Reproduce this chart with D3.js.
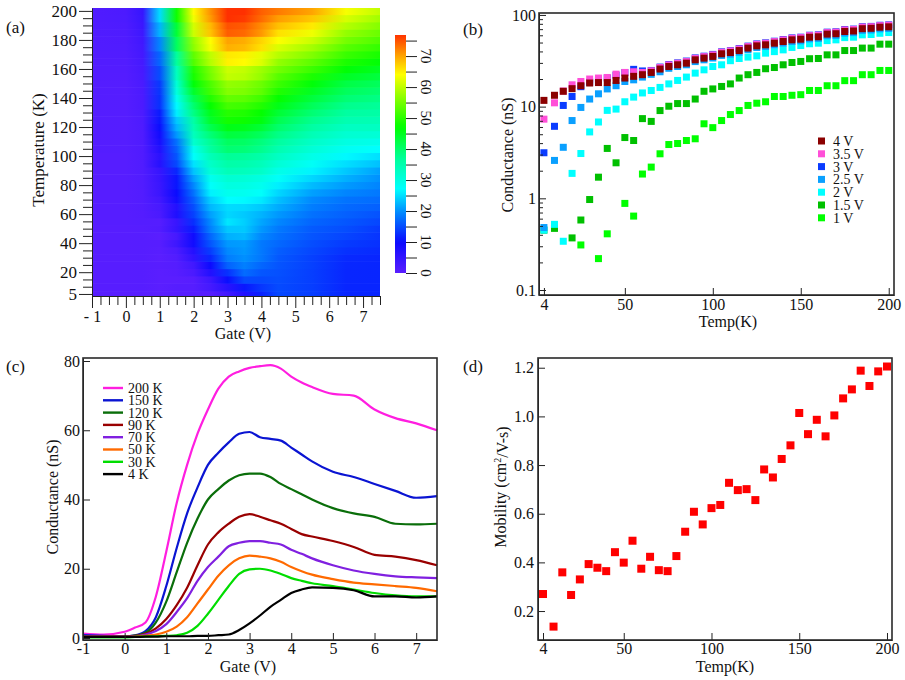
<!DOCTYPE html>
<html>
<head>
<meta charset="utf-8">
<script src="https://cdn.jsdelivr.net/npm/d3@7"></script>
<style>
  body { margin: 0; background: #fff; }
  svg, svg text { font-family: "Liberation Serif", "DejaVu Serif", "Times New Roman", Times, serif; }
  .axis path, .axis line { stroke: #222; }
  .axis text { fill: #111; }
</style>
</head>
<body>
<div id="fig"></div>
<script>
/* * * * * * * * * * * * * * * * * * * * *
*   Gate / temperature transport figure   *
* * * * * * * * * * * * * * * * * * * * */

const SERIF = '"Liberation Serif", "DejaVu Serif", "Times New Roman", Times, serif';

// ---- data -------------------------------------------------------------

// temperatures shared by (a), (b) and (d)
const temps = [4, 10, 15, 20, 25, 30, 35, 40, 45, 50, 55, 60, 65, 70, 75, 80, 85, 90, 95, 100,
    105, 110, 115, 120, 125, 130, 135, 140, 145, 150, 155, 160, 165, 170, 175, 180, 185, 190, 195, 200];

// (b) conductance (nS) vs temperature at fixed gate voltage; null = below the axis
const g4V = [11.7, 13.3, 14.7, 15.7, 16.9, 18.1, 18.3, 18.3, 19.3, 20.5, 21.4, 22.3, 23.6, 25.7, 27.4, 28.6, 29.8, 32.4, 33.8, 35.3,
    37.7, 38.9, 40.9, 43.5, 46.0, 47.2, 49.2, 51.3, 53.5, 54.4, 57.2, 57.8, 61.8, 62.4, 66.0, 66.8, 70.8, 71.5, 73.5, 74.2];
const g35V = [7.3, 11.0, 14.8, 17.3, 18.8, 20.0, 20.5, 20.8, 22.6, 23.6, 24.0, 23.6, 24.6, 26.7, 28.5, 29.7, 31.0, 33.6, 35.1, 36.7,
    39.2, 40.5, 42.5, 45.2, 47.8, 49.1, 51.2, 53.4, 55.6, 56.6, 59.5, 60.1, 64.2, 64.9, 68.6, 69.5, 73.6, 74.4, 76.4, 77.2];
const g3V = [3.14, 6.1, 10.3, 12.9, 16.5, 18.5, 19.5, 20.5, 22.0, 23.5, 25.5, 24.5, 24.8, 27.0, 28.8, 30.0, 31.4, 34.0, 35.5, 37.1,
    39.6, 40.8, 43.0, 45.7, 48.3, 49.6, 51.7, 53.9, 56.2, 57.2, 60.1, 60.7, 64.9, 65.5, 69.3, 70.1, 74.3, 75.0, 77.2, 77.9];
const g25V = [0.48, 2.59, 3.6, 7.05, 9.8, 12.1, 13.8, 15.6, 16.9, 18.8, 19.6, 21.0, 22.5, 24.0, 26.2, 27.4, 28.6, 31.0, 32.4, 33.9,
    36.2, 37.3, 39.3, 41.8, 44.2, 45.3, 47.2, 49.2, 51.4, 52.2, 54.9, 55.5, 59.3, 59.9, 63.4, 64.1, 68.0, 68.6, 70.6, 71.2];
const g2V = [0.45, 0.52, 0.34, 1.87, 3.08, 5.3, 6.8, 9.1, 9.4, 11.3, 12.7, 14.1, 15.0, 16.2, 17.7, 19.3, 21.0, 23.2, 25.2, 27.4,
    28.6, 31.7, 33.5, 34.7, 35.8, 38.3, 39.8, 41.6, 44.2, 46.4, 48.5, 49.2, 52.5, 53.5, 56.6, 57.2, 60.7, 61.2, 63.1, 64.3];
const g15V = [0.45, 0.47, null, 0.37, 0.58, 0.97, 1.7, 3.5, 2.44, 4.6, 4.27, 7.4, 6.9, 9.06, 10.1, 10.8, 10.8, 12.1, 14.7, 15.6,
    16.6, 17.7, 20.5, 22.3, 23.6, 25.9, 26.7, 28.6, 30.3, 31.1, 33.3, 33.5, 36.7, 36.7, 40.9, 40.9, 43.5, 43.5, 48.0, 48.0];
const g1V = [null, null, null, null, 0.31, null, 0.22, 0.41, null, 0.88, 0.64, 1.84, 2.19, 3.06, 3.86, 3.96, 4.27, 4.46, 6.5, 5.9,
    7.05, 8.2, 9.06, 10.3, 10.9, 11.3, 12.9, 12.9, 13.3, 13.5, 15.0, 15.0, 16.9, 16.9, 19.2, 19.2, 22.3, 22.3, 24.8, 24.8];
const bLabels = ["4 V", "3.5 V", "3 V", "2.5 V", "2 V", "1.5 V", "1 V"];

// (a) extra map columns (gate outside 1..4 V), one value per temperature
const mapGm1 = [0.4, 0.4, 0.4, 0.4, 0.4, 0.4, 0.4, 0.4, 0.4, 0.4, 0.5, 0.5, 0.5, 0.5, 0.5, 0.5, 0.5, 0.5, 0.5, 0.5,
    0.7, 0.7, 0.7, 0.7, 0.7, 0.7, 0.7, 0.7, 0.7, 0.7, 0.9, 0.9, 1.0, 1.0, 1.1, 1.1, 1.2, 1.2, 1.3, 1.3];
const mapG0 = [0.4, 0.4, 0.4, 0.4, 0.4, 0.4, 0.4, 0.4, 0.4, 0.4, 0.5, 0.5, 0.5, 0.5, 0.5, 0.5, 0.5, 0.5, 0.5, 0.5,
    0.6, 0.6, 0.6, 0.6, 0.6, 0.6, 0.6, 0.6, 0.6, 0.6, 0.8, 0.9, 1.0, 1.1, 1.2, 1.3, 1.4, 1.5, 1.7, 1.8];
const mapG05 = [0.5, 0.5, 0.5, 0.5, 0.5, 0.5, 0.5, 0.5, 0.5, 0.5, 0.7, 0.8, 0.9, 1.0, 1.0, 1.1, 1.1, 1.2, 1.2, 1.3,
    1.3, 1.4, 1.4, 1.5, 1.6, 1.7, 1.8, 1.8, 1.9, 2.0, 2.2, 2.4, 2.6, 2.8, 3.0, 3.3, 3.6, 3.9, 4.2, 4.5];
const mapG45 = [14.6, 14.8, 15.0, 15.2, 15.5, 15.8, 16.3, 17.0, 17.6, 18.3, 19.3, 20.5, 21.7, 23.0, 24.5, 26.0, 27.6, 29.3, 31.0, 32.8,
    34.6, 36.4, 38.2, 40.0, 41.8, 43.6, 45.5, 47.3, 49.2, 51.0, 53.0, 55.0, 57.2, 59.4, 61.6, 63.8, 66.0, 68.2, 70.4, 72.5];
const mapG55 = [13.8, 13.8, 13.9, 13.9, 14.0, 14.0, 14.5, 15.0, 15.5, 16.0, 16.8, 17.7, 18.6, 19.5, 21.0, 22.7, 24.5, 26.3, 27.8, 29.3,
    30.9, 32.5, 34.2, 36.0, 37.7, 39.5, 41.2, 43.0, 44.8, 46.5, 48.8, 51.0, 53.4, 55.8, 58.2, 60.6, 63.0, 65.4, 67.7, 70.0];
const mapG65 = [12.0, 12.0, 12.1, 12.1, 12.2, 12.3, 12.9, 13.6, 14.3, 15.0, 15.7, 16.4, 17.1, 17.8, 19.2, 20.6, 22.0, 23.5, 25.0, 26.6,
    28.2, 29.8, 31.4, 33.0, 34.6, 36.2, 37.8, 39.4, 41.0, 42.5, 44.6, 46.7, 48.8, 50.9, 53.0, 55.1, 57.2, 59.3, 61.4, 63.5];
const mapG75 = [12.0, 12.0, 12.0, 12.0, 12.0, 12.0, 12.4, 12.8, 13.1, 13.5, 14.5, 15.4, 16.4, 17.3, 18.2, 19.1, 20.0, 21.0, 23.0, 25.0,
    27.0, 29.0, 31.0, 33.0, 34.3, 35.7, 37.0, 38.3, 39.7, 41.0, 42.9, 44.8, 46.7, 48.6, 50.5, 52.4, 54.3, 56.2, 58.1, 60.0];
const mapGates = [-1, 0, 0.5, 1, 1.5, 2, 2.5, 3, 3.5, 4, 4.5, 5.5, 6.5, 7.5];

// (c) conductance (nS) vs gate (V) at fixed temperature
const cGate = [-1, -0.5, 0, 0.25, 0.5, 0.75, 1, 1.25, 1.5, 1.75, 2, 2.25, 2.5, 2.75, 3, 3.25, 3.5, 3.75, 4, 4.25, 4.5, 5, 5.5, 6, 6.5, 7, 7.5];
const c200K = [1.3, 1.0, 1.8, 3.0, 4.5, 12, 25, 39, 50, 59, 66, 72, 75.5, 77, 78, 78.5, 78.8, 77.8, 75.5, 73.8, 72.5, 70.5, 70, 66, 63.5, 62, 60];
const c150K = [0.8, 0.6, 0.5, 0.8, 2, 6, 15, 26, 36, 43.5, 50, 53.5, 56.5, 59, 59.5, 58, 57.5, 57, 55, 53, 51, 48, 46.5, 44.5, 42.5, 40.5, 41];
const c120K = [0.5, 0.5, 0.5, 0.7, 1.5, 4.5, 10.5, 19, 27.5, 34.5, 40, 43, 45.5, 47, 47.5, 47.5, 46.5, 44.5, 43, 41.5, 40, 37.5, 36, 35, 33, 32.8, 33];
const c90K = [0.4, 0.4, 0.4, 0.6, 1.2, 2.8, 5.5, 9.5, 14.5, 21, 27, 30.5, 33, 35, 35.8, 35, 34, 33, 31.5, 30, 29.3, 28, 26.3, 24, 23.5, 22.5, 21];
const c70K = [0.4, 0.4, 0.4, 0.5, 1.0, 2.0, 4.0, 7.5, 11.5, 16.5, 20.5, 23.5, 26.5, 27.5, 28, 28, 27.5, 27, 25.5, 24.3, 23, 21, 19.5, 18.5, 17.8, 17.5, 17.3];
const c50K = [0.3, 0.3, 0.3, 0.4, 0.7, 1.0, 1.8, 3.3, 6, 10, 14, 18, 21, 23, 23.8, 23.5, 23, 22, 20.5, 19.3, 18.3, 17, 16, 15.5, 15, 14.5, 13.5];
const c30K = [0.2, 0.2, 0.2, 0.3, 0.4, 0.5, 0.6, 0.8, 1.5, 3.5, 7, 11, 15, 18.5, 19.8, 20, 19.5, 18.5, 17.3, 16.5, 15.8, 15, 14, 13, 12.3, 12, 12];
const c4K = [0.3, 0.3, 0.3, 0.3, 0.4, 0.4, 0.5, 0.5, 0.5, 0.6, 0.6, 0.8, 1.0, 2.3, 4.2, 6.5, 9, 11, 13, 14, 14.6, 14.5, 13.8, 12, 12, 11.7, 12];
const cLabels = ["200 K", "150 K", "120 K", "90 K", "70 K", "50 K", "30 K", "4 K"];

// (d) mobility (cm2/V-s) vs temperature
const mobility = [0.27, 0.136, 0.359, 0.266, 0.33, 0.393, 0.378, 0.364, 0.442, 0.399, 0.489, 0.374, 0.423, 0.368, 0.364, 0.426, 0.526, 0.608, 0.556, 0.623,
    0.636, 0.727, 0.697, 0.701, 0.656, 0.782, 0.749, 0.825, 0.881, 1.014, 0.927, 0.986, 0.918, 1.004, 1.074, 1.111, 1.188, 1.125, 1.185, 1.205];

// ---- drawing ----------------------------------------------------------

const svg = d3.select("#fig").append("svg")
    .attr("width", 905)
    .attr("height", 680)
    .style("font-family", SERIF);
const defs = svg.append("defs");
const FONT = "16px";

// helper: style an axis group
function styleAxis(g, size) {
    g.attr("class", "axis")
        .attr("font-family", null)
        .style("font-size", size || FONT)
        .style("font-family", SERIF);
    g.selectAll("line").attr("stroke", "#222");
    return g;
}

function panelLabel(x, y, txt) {
    svg.append("text").attr("x", x).attr("y", y).text(txt)
        .style("font-size", "17px").attr("fill", "#111");
}

function frame(x0, y0, x1, y1) {
    svg.append("rect").attr("x", x0).attr("y", y0)
        .attr("width", x1 - x0).attr("height", y1 - y0)
        .attr("fill", "none").attr("stroke", "#2a2a2a").attr("stroke-width", 1.6);
}

function yTitle(x, y, txt) {
    return svg.append("text")
        .attr("transform", `translate(${x},${y}) rotate(-90)`)
        .attr("text-anchor", "middle").attr("dy", "0.35em")
        .style("font-size", FONT).attr("fill", "#111").text(txt);
}

function xTitle(x, y, txt) {
    svg.append("text").attr("x", x).attr("y", y)
        .attr("text-anchor", "middle")
        .style("font-size", FONT).attr("fill", "#111").text(txt);
}

/* ---------- (a) colour map ---------- */
const xA = d3.scaleLinear().domain([-1, 7.5]).range([92, 380]);
const yA = d3.scaleLinear().domain([3.6, 202]).range([296, 8]);
const colorA = d3.scaleLinear()
    .domain([0, 10, 20, 27, 37, 47, 57, 64, 70, 77])
    .range(["#5a1eff", "#0a0aff", "#0090ff", "#00ffff", "#00ff99", "#00ff00", "#90ff00", "#ffff00", "#ffa500", "#ff3000"])
    .clamp(true);

let mapColumns = [mapGm1, mapG0, mapG05, g1V, g15V, g2V, g25V, g3V, g35V, g4V, mapG45, mapG55, mapG65, mapG75];

// one horizontal gradient per temperature row
temps.forEach((t, i) => {
    let grad = defs.append("linearGradient")
        .attr("id", "row" + i)
        .attr("gradientUnits", "userSpaceOnUse")
        .attr("x1", xA(-1)).attr("x2", xA(7.5))
        .attr("y1", 0).attr("y2", 0);
    mapGates.forEach((g, j) => {
        grad.append("stop")
            .attr("offset", (xA(g) - xA(-1)) / (xA(7.5) - xA(-1)))
            .attr("stop-color", colorA(mapColumns[j][i] ?? 0));
    });
});

// row edges: half way between neighbouring temperatures
let rowLo = temps.map((t, i) => i === 0 ? 3.6 : (t + temps[i - 1]) / 2);
let rowHi = temps.map((t, i) => i === temps.length - 1 ? 202 : (t + temps[i + 1]) / 2);

let gA = svg.append("g");
gA.selectAll("rect.row")
    .data(temps)
    .join("rect")
    .attr("class", "row")
    .attr("x", xA(-1))
    .attr("width", xA(7.5) - xA(-1))
    .attr("y", (t, i) => yA(rowHi[i]))
    .attr("height", (t, i) => yA(rowLo[i]) - yA(rowHi[i]) + (i === 0 ? 0 : 0.6))
    .attr("fill", (t, i) => `url(#row${i})`);

// x axis of (a): minor every 0.25 V, labels on integers
let minorA = d3.range(-1, 7.51, 0.25).filter(v => Math.abs(v - Math.round(v)) > 0.01);
gA.append("g").attr("transform", "translate(0,296)")
    .call(d3.axisBottom(xA).tickValues(minorA).tickSize(9).tickSizeOuter(0).tickFormat(""))
    .call(g => styleAxis(g));
gA.append("g").attr("transform", "translate(0,296)")
    .call(d3.axisBottom(xA).tickValues(d3.range(-1, 8, 1)).tickSize(12).tickSizeOuter(0).tickPadding(3))
    .call(g => styleAxis(g))
    .call(g => g.selectAll("text").text(d => d < 0 ? "- " + Math.abs(d) : d));

// y axis of (a): minor every 5 K, labels at 5 and every 20 K
let majorYA = [5].concat(d3.range(20, 201, 20));
gA.append("g").attr("transform", "translate(92,0)")
    .call(d3.axisLeft(yA).tickValues(d3.range(5, 201, 5).filter(v => !majorYA.includes(v))).tickSize(9).tickSizeOuter(0).tickFormat(""))
    .call(g => styleAxis(g))
    .call(g => g.select(".domain").remove());
gA.append("g").attr("transform", "translate(92,0)")
    .call(d3.axisLeft(yA).tickValues(majorYA).tickSize(13).tickSizeOuter(0).tickPadding(2))
    .call(g => styleAxis(g, "17px"));

// colour bar
const cb = d3.scaleLinear().domain([0, 76.8]).range([273, 35]);
let cbGrad = defs.append("linearGradient").attr("id", "cbar")
    .attr("x1", 0).attr("x2", 0).attr("y1", 1).attr("y2", 0);
d3.range(0, 76.9, 1.6).forEach(v => {
    cbGrad.append("stop").attr("offset", v / 76.8).attr("stop-color", colorA(v));
});
svg.append("rect").attr("x", 395).attr("y", cb(76.8))
    .attr("width", 11).attr("height", cb(0) - cb(76.8))
    .attr("fill", "url(#cbar)");
svg.append("g").attr("transform", "translate(406,0)")
    .call(d3.axisRight(cb).tickValues(d3.range(0, 76, 5)).tickSize(11).tickFormat(""))
    .call(g => styleAxis(g))
    .call(g => g.select(".domain").remove());
svg.append("g").selectAll("text")
    .data(d3.range(0, 71, 10))
    .join("text")
    .attr("transform", d => `translate(426,${cb(d)}) rotate(90)`)
    .attr("text-anchor", "middle")
    .attr("dy", "0.35em")
    .style("font-size", "15px").attr("fill", "#111")
    .text(d => d);

yTitle(38, 150, "Temperature (K)").style("font-size", "17px");
xTitle(243, 339, "Gate (V)");
panelLabel(6, 33, "(a)");

/* ---------- (b) conductance vs temperature ---------- */
const xB = d3.scaleLinear().domain([1.2, 203]).range([539, 894]);
const yB = d3.scaleLog().domain([0.0882, 105]).range([295, 13]);
const bSeries = [g4V, g35V, g3V, g25V, g2V, g15V, g1V];
const bColors = ["#8b0000", "#ff4fd8", "#0a3cff", "#0aa0ff", "#00ffff", "#00c000", "#00ff00"];

let gB = svg.append("g");
// draw from 1 V up so 4 V ends on top
d3.range(bSeries.length - 1, -1, -1).forEach(s => {
    let pts = temps.map((t, i) => ({ t: t, v: bSeries[s][i] })).filter(d => d.v != null);
    gB.append("g").selectAll("rect")
        .data(pts)
        .join("rect")
        .attr("x", d => xB(d.t) - 3.5)
        .attr("y", d => yB(d.v) - 3.5)
        .attr("width", 7).attr("height", 7)
        .attr("fill", bColors[s]);
});

gB.append("g").attr("transform", "translate(0,295)")
    .call(d3.axisBottom(xB).tickValues([4, 50, 100, 150, 200]).tickSize(-7).tickSizeOuter(0).tickPadding(4))
    .call(g => styleAxis(g));
let logMinor = [];
[0.1, 1, 10].forEach(dec => d3.range(2, 10).forEach(k => logMinor.push(k * dec)));
gB.append("g").attr("transform", "translate(539,0)")
    .call(d3.axisLeft(yB).tickValues(logMinor).tickSize(-4).tickSizeOuter(0).tickFormat(""))
    .call(g => styleAxis(g));
gB.append("g").attr("transform", "translate(539,0)")
    .call(d3.axisLeft(yB).tickValues([0.1, 1, 10, 100]).tickSize(-7).tickSizeOuter(0).tickPadding(3).tickFormat(d => d))
    .call(g => styleAxis(g));
frame(539, 13, 894, 295);

// legend of (b)
let legB = svg.append("g").attr("transform", "translate(818,141)");
bLabels.forEach((lab, i) => {
    legB.append("rect").attr("x", 0).attr("y", i * 12.8 - 3.5)
        .attr("width", 7).attr("height", 7).attr("fill", bColors[i]);
    legB.append("text").attr("x", 15).attr("y", i * 12.8).attr("dy", "0.35em")
        .style("font-size", "14px").attr("fill", "#111").text(lab);
});

yTitle(507, 155, "Conductance (nS)");
xTitle(728, 327, "Temp(K)");
panelLabel(463, 35, "(b)");

/* ---------- (c) conductance vs gate ---------- */
const xC = d3.scaleLinear().domain([-1, 7.5]).range([83, 437]);
const yC = d3.scaleLinear().domain([-0.58, 80.87]).range([640, 358]);
const cSeries = [c200K, c150K, c120K, c90K, c70K, c50K, c30K, c4K];
const cColors = ["#ff1ee0", "#0a14d2", "#0a6e0a", "#990000", "#8020e0", "#ff6a00", "#00dd00", "#000000"];

let line = d3.line()
    .x((d, i) => xC(cGate[i]))
    .y(d => yC(d))
    .curve(d3.curveMonotoneX);

let gC = svg.append("g");
cSeries.forEach((s, k) => {
    gC.append("path")
        .attr("d", line(s))
        .attr("fill", "none")
        .attr("stroke", cColors[k])
        .attr("stroke-width", 2.2);
});

gC.append("g").attr("transform", "translate(0,640)")
    .call(d3.axisBottom(xC).tickValues(d3.range(-1, 8, 1)).tickSize(-7).tickSizeOuter(0).tickPadding(3).tickFormat(d => d))
    .call(g => styleAxis(g));
gC.append("g").attr("transform", "translate(83,0)")
    .call(d3.axisLeft(yC).tickValues(d3.range(0, 81, 20)).tickSize(-7).tickSizeOuter(0).tickPadding(3))
    .call(g => styleAxis(g));
frame(83, 358, 437, 640);

// legend of (c)
let legC = svg.append("g").attr("transform", "translate(103,388)");
cLabels.forEach((lab, i) => {
    legC.append("line").attr("x1", 0).attr("x2", 20)
        .attr("y1", i * 12.3).attr("y2", i * 12.3)
        .attr("stroke", cColors[i]).attr("stroke-width", 2.4);
    legC.append("text").attr("x", 25).attr("y", i * 12.3).attr("dy", "0.35em")
        .style("font-size", "14px").attr("fill", "#111").text(lab);
});

yTitle(52, 497, "Conductance (nS)");
xTitle(248, 672, "Gate (V)");
panelLabel(6, 372, "(c)");

/* ---------- (d) mobility vs temperature ---------- */
const xD = d3.scaleLinear().domain([1.15, 202.85]).range([538, 892]);
const yD = d3.scaleLinear().domain([0.081, 1.24]).range([640, 358]);

let gD = svg.append("g");
gD.selectAll("rect")
    .data(temps.map((t, i) => ({ t: t, v: mobility[i] })))
    .join("rect")
    .attr("x", d => xD(d.t) - 4)
    .attr("y", d => yD(d.v) - 4)
    .attr("width", 8).attr("height", 8)
    .attr("fill", "#ff0000");

gD.append("g").attr("transform", "translate(0,640)")
    .call(d3.axisBottom(xD).tickValues([4, 50, 100, 150, 200]).tickSize(-7).tickSizeOuter(0).tickPadding(3))
    .call(g => styleAxis(g));
gD.append("g").attr("transform", "translate(538,0)")
    .call(d3.axisLeft(yD).tickValues([0.2, 0.4, 0.6, 0.8, 1.0, 1.2]).tickSize(-7).tickSizeOuter(0).tickPadding(4).tickFormat(d3.format(".1f")))
    .call(g => styleAxis(g));
frame(538, 358, 892, 640);

let mobTitle = yTitle(500, 487, "");
mobTitle.append("tspan").text("Mobility (cm");
mobTitle.append("tspan").attr("dy", "-0.45em").style("font-size", "10px").text("2");
mobTitle.append("tspan").attr("dy", "0.45em").text("/V-s)");

xTitle(725, 672, "Temp(K)");
panelLabel(463, 372, "(d)");
</script>
</body>
</html>
